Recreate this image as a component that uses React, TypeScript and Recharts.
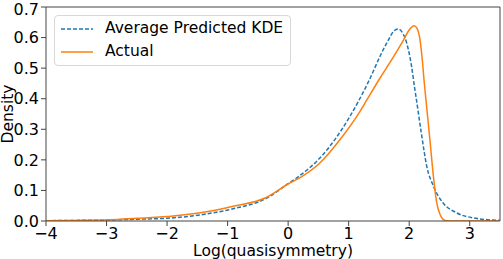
import { LineChart, Line, XAxis, YAxis, ReferenceLine } from "recharts";

// Average predicted KDE (dashed blue)
const predX = [-4, -3.5, -3, -2.5, -2, -1.35, -0.91, -0.36, 0, 0.19, 0.52, 0.855, 1.157, 1.35, 1.516, 1.65, 1.75, 1.82, 1.9, 1.96, 2.04, 2.09, 2.12, 2.2, 2.29, 2.4, 2.56, 2.78, 3.06, 3.25, 3.5];
const predY = [0.001, 0.002, 0.003, 0.006, 0.009, 0.023, 0.04, 0.074, 0.122, 0.148, 0.205, 0.29, 0.39, 0.465, 0.538, 0.59, 0.622, 0.628, 0.612, 0.581, 0.505, 0.435, 0.396, 0.288, 0.179, 0.114, 0.059, 0.027, 0.01, 0.005, 0.002];

// Actual (solid orange)
const actX = [-4, -3.5, -2.95, -2.5, -1.9, -1.35, -0.91, -0.36, 0, 0.19, 0.52, 0.855, 1.185, 1.3, 1.516, 1.75, 1.9, 2.0, 2.08, 2.13, 2.17, 2.21, 2.25, 2.29, 2.34, 2.4, 2.45, 2.51, 2.59, 2.7, 3.5];
const actY = [0.001, 0.002, 0.004, 0.009, 0.016, 0.03, 0.048, 0.077, 0.121, 0.141, 0.189, 0.266, 0.358, 0.396, 0.467, 0.54, 0.59, 0.625, 0.639, 0.63, 0.603, 0.54, 0.45, 0.37, 0.27, 0.146, 0.065, 0.021, 0.002, 0, 0];

const xTicks = [-4, -3, -2, -1, 0, 1, 2, 3];
const yTicks = [0, 0.1, 0.2, 0.3, 0.4, 0.5, 0.6, 0.7];

const predData = predX.map((x, i) => ({ x, y: predY[i] }));
const actData = actX.map((x, i) => ({ x, y: actY[i] }));

const font = "DejaVu Sans";
const spine = "#444";
const minus = (v: number) => String(v).replace("-", "\u2212");

const LegendBox = () => (
  <div
    style={{
      position: "absolute",
      left: 54,
      top: 15,
      border: "1px solid #d8d8d8",
      borderRadius: 4,
      background: "rgba(255,255,255,0.8)",
      padding: "1px 7px 2px 6px",
      fontFamily: font,
      fontSize: 15.5,
      color: "#000",
      lineHeight: "23px",
    }}
  >
    <div style={{ display: "flex", alignItems: "center" }}>
      <svg width={32} height={10} style={{ marginRight: 12 }}>
        <line x1={0} y1={5} x2={32} y2={5} stroke="#1f77b4" strokeWidth={1.5} strokeDasharray="4 2" />
      </svg>
      Average Predicted KDE
    </div>
    <div style={{ display: "flex", alignItems: "center" }}>
      <svg width={32} height={10} style={{ marginRight: 12 }}>
        <line x1={0} y1={5} x2={32} y2={5} stroke="#ff7f0e" strokeWidth={1.5} />
      </svg>
      Actual
    </div>
  </div>
);

export default function App() {
  return (
    <div style={{ position: "absolute", left: 0, top: 0, width: 503, height: 259, background: "#fff" }}>
      <LineChart width={503} height={259} margin={{ top: 7, right: 3, bottom: 0, left: 6 }}>
        <XAxis
          type="number"
          dataKey="x"
          domain={[-4, 3.5]}
          ticks={xTicks}
          allowDataOverflow
          tickFormatter={minus}
          tick={{ fontSize: 16, fontFamily: font, fill: "#000" }}
          tickSize={5}
          tickLine={{ stroke: spine }}
          axisLine={{ stroke: spine }}
          height={38}
          label={{ value: "Log(quasisymmetry)", position: "insideBottom", offset: 3, fontSize: 15.5, fontFamily: font, fill: "#000" }}
        />
        <YAxis
          type="number"
          domain={[0, 0.7]}
          ticks={yTicks}
          allowDataOverflow
          tickFormatter={(v: number) => v.toFixed(1)}
          tick={{ fontSize: 16, fontFamily: font, fill: "#000" }}
          tickSize={5}
          tickLine={{ stroke: spine }}
          axisLine={{ stroke: spine }}
          width={40}
          label={{ value: "Density", angle: -90, position: "insideLeft", offset: 1, fontSize: 15.5, fontFamily: font, fill: "#000", style: { textAnchor: "middle" } }}
        />
        <ReferenceLine y={0.7} stroke={spine} ifOverflow="extendDomain" />
        <ReferenceLine x={3.5} stroke={spine} ifOverflow="extendDomain" />
        <Line data={predData} dataKey="y" type="monotone" stroke="#1f77b4" strokeWidth={1.5} strokeDasharray="4 2" dot={false} isAnimationActive={false} />
        <Line data={actData} dataKey="y" type="monotone" stroke="#ff7f0e" strokeWidth={1.5} dot={false} isAnimationActive={false} />
      </LineChart>
      <LegendBox />
    </div>
  );
}
